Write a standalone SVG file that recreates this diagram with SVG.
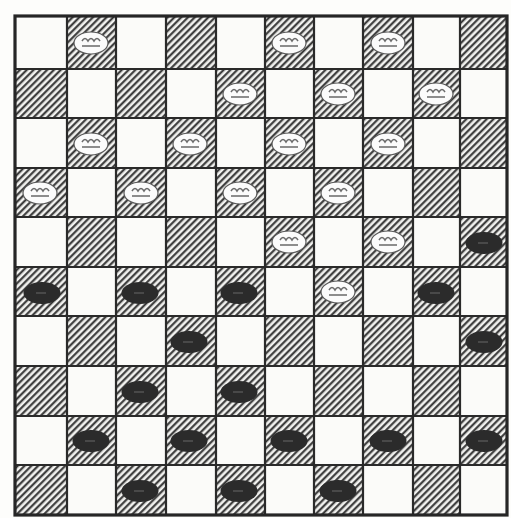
<svg xmlns="http://www.w3.org/2000/svg" width="511" height="518" viewBox="0 0 511 518">
<defs>
<pattern id="hatch" patternUnits="userSpaceOnUse" width="4.8" height="4.8" patternTransform="rotate(45)">
<rect width="4.8" height="4.8" fill="#f2f2f0"/>
<line x1="1.2" y1="0" x2="1.2" y2="4.8" stroke="#333" stroke-width="2.1"/>
</pattern>
<g id="wp">
<ellipse cx="0" cy="0" rx="17" ry="11" fill="#fbfbfb" stroke="#5a5a5a" stroke-width="1.2"/>
<path d="M-9,-2 q3,-5 6,0 q3,-5 6,0 q3,-5 6,0 M-9,3 h18" fill="none" stroke="#6a6a6a" stroke-width="1.5"/>
</g>
<g id="bp">
<ellipse cx="0" cy="0" rx="18.5" ry="11" fill="#2b2b2b"/>
<path d="M-6,0 h10" stroke="#555" stroke-width="1.5"/>
</g>
</defs>
<style>
.h{fill:url(#hatch)}
.grid{stroke:#2a2a2a;stroke-width:2.2;fill:none}
.border{stroke:#262626;stroke-width:3.2;fill:none}
</style>
<rect width="511" height="518" fill="#fdfdfb"/>
<g id="board">
<rect x="15" y="16" width="492" height="499" fill="#fbfbf9"/>
<g id="hatched-squares">
<rect class="h" x="67" y="16" width="49" height="53"/><rect class="h" x="166" y="16" width="50" height="53"/><rect class="h" x="265" y="16" width="49" height="53"/><rect class="h" x="363" y="16" width="50" height="53"/><rect class="h" x="460" y="16" width="47" height="53"/>
<rect class="h" x="15" y="69" width="52" height="49"/><rect class="h" x="116" y="69" width="50" height="49"/><rect class="h" x="216" y="69" width="49" height="49"/><rect class="h" x="314" y="69" width="49" height="49"/><rect class="h" x="413" y="69" width="47" height="49"/>
<rect class="h" x="67" y="118" width="49" height="50"/><rect class="h" x="166" y="118" width="50" height="50"/><rect class="h" x="265" y="118" width="49" height="50"/><rect class="h" x="363" y="118" width="50" height="50"/><rect class="h" x="460" y="118" width="47" height="50"/>
<rect class="h" x="15" y="168" width="52" height="49"/><rect class="h" x="116" y="168" width="50" height="49"/><rect class="h" x="216" y="168" width="49" height="49"/><rect class="h" x="314" y="168" width="49" height="49"/><rect class="h" x="413" y="168" width="47" height="49"/>
<rect class="h" x="67" y="217" width="49" height="50"/><rect class="h" x="166" y="217" width="50" height="50"/><rect class="h" x="265" y="217" width="49" height="50"/><rect class="h" x="363" y="217" width="50" height="50"/><rect class="h" x="460" y="217" width="47" height="50"/>
<rect class="h" x="15" y="267" width="52" height="49"/><rect class="h" x="116" y="267" width="50" height="49"/><rect class="h" x="216" y="267" width="49" height="49"/><rect class="h" x="314" y="267" width="49" height="49"/><rect class="h" x="413" y="267" width="47" height="49"/>
<rect class="h" x="67" y="316" width="49" height="50"/><rect class="h" x="166" y="316" width="50" height="50"/><rect class="h" x="265" y="316" width="49" height="50"/><rect class="h" x="363" y="316" width="50" height="50"/><rect class="h" x="460" y="316" width="47" height="50"/>
<rect class="h" x="15" y="366" width="52" height="50"/><rect class="h" x="116" y="366" width="50" height="50"/><rect class="h" x="216" y="366" width="49" height="50"/><rect class="h" x="314" y="366" width="49" height="50"/><rect class="h" x="413" y="366" width="47" height="50"/>
<rect class="h" x="67" y="416" width="49" height="49"/><rect class="h" x="166" y="416" width="50" height="49"/><rect class="h" x="265" y="416" width="49" height="49"/><rect class="h" x="363" y="416" width="50" height="49"/><rect class="h" x="460" y="416" width="47" height="49"/>
<rect class="h" x="15" y="465" width="52" height="50"/><rect class="h" x="116" y="465" width="50" height="50"/><rect class="h" x="216" y="465" width="49" height="50"/><rect class="h" x="314" y="465" width="49" height="50"/><rect class="h" x="413" y="465" width="47" height="50"/>
</g>
<path class="grid" d="M67,16V515M116,16V515M166,16V515M216,16V515M265,16V515M314,16V515M363,16V515M413,16V515M460,16V515M15,69H507M15,118H507M15,168H507M15,217H507M15,267H507M15,316H507M15,366H507M15,416H507M15,465H507"/>
<rect class="border" x="15" y="16" width="492" height="499"/>
</g>
<g id="white-pieces">
<use id="w-r0c1" href="#wp" x="91" y="43"/>
<use id="w-r0c5" href="#wp" x="289" y="43"/>
<use id="w-r0c7" href="#wp" x="388" y="43"/>
<use id="w-r1c4" href="#wp" x="240" y="94"/>
<use id="w-r1c6" href="#wp" x="338" y="94"/>
<use id="w-r1c8" href="#wp" x="436" y="94"/>
<use id="w-r2c1" href="#wp" x="91" y="144"/>
<use id="w-r2c3" href="#wp" x="190" y="144"/>
<use id="w-r2c5" href="#wp" x="289" y="144"/>
<use id="w-r2c7" href="#wp" x="388" y="144"/>
<use id="w-r3c0" href="#wp" x="40" y="193"/>
<use id="w-r3c2" href="#wp" x="141" y="193"/>
<use id="w-r3c4" href="#wp" x="240" y="193"/>
<use id="w-r3c6" href="#wp" x="338" y="193"/>
<use id="w-r4c5" href="#wp" x="289" y="242"/>
<use id="w-r4c7" href="#wp" x="388" y="242"/>
<use id="w-r5c6" href="#wp" x="338" y="292"/>
</g>
<g id="black-pieces">
<use id="b-r4c9" href="#bp" x="484" y="243"/>
<use id="b-r5c0" href="#bp" x="42" y="293"/>
<use id="b-r5c2" href="#bp" x="140" y="293"/>
<use id="b-r5c4" href="#bp" x="239" y="293"/>
<use id="b-r5c8" href="#bp" x="436" y="293"/>
<use id="b-r6c3" href="#bp" x="189" y="342"/>
<use id="b-r6c9" href="#bp" x="484" y="342"/>
<use id="b-r7c2" href="#bp" x="140" y="392"/>
<use id="b-r7c4" href="#bp" x="239" y="392"/>
<use id="b-r8c1" href="#bp" x="91" y="441"/>
<use id="b-r8c3" href="#bp" x="189" y="441"/>
<use id="b-r8c5" href="#bp" x="289" y="441"/>
<use id="b-r8c7" href="#bp" x="388" y="441"/>
<use id="b-r8c9" href="#bp" x="484" y="441"/>
<use id="b-r9c2" href="#bp" x="140" y="491"/>
<use id="b-r9c4" href="#bp" x="239" y="491"/>
<use id="b-r9c6" href="#bp" x="338" y="491"/>
</g>
</svg>
